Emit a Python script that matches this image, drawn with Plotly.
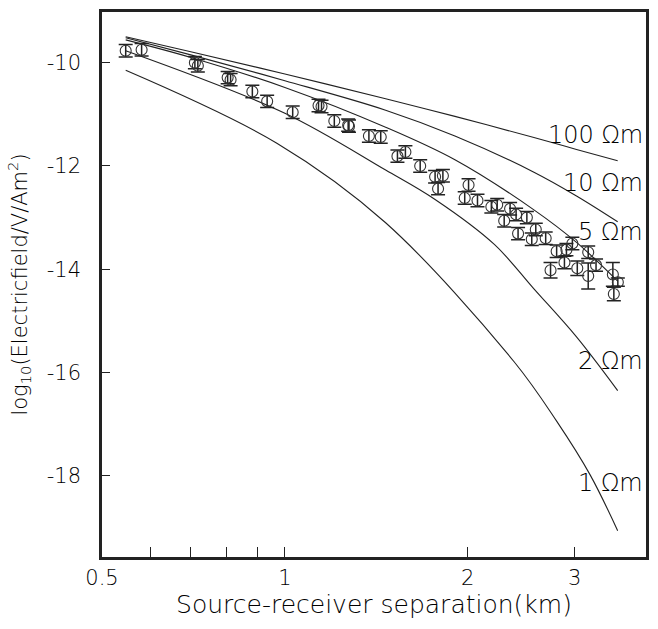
import numpy as np
import plotly.graph_objects as go

# Model curves: log10 field amplitude for half-space resistivities
curve_x = [0.547, 0.70, 1.0, 1.465, 1.905, 2.57, 3.02, 3.53]
curve_100 = [-9.50, -9.79, -10.22, -10.70, -11.04, -11.45, -11.68, -11.90]
curve_10 = [-9.52, -9.85, -10.35, -10.92, -11.42, -12.12, -12.58, -13.08]
curve_5 = [-9.56, -9.90, -10.48, -11.25, -11.88, -12.85, -13.48, -14.23]

curve2_x = [0.547, 1.0, 1.465, 1.767, 2.212, 2.57, 3.02, 3.53]
curve_2 = [-9.77, -10.98, -12.08, -12.65, -13.52, -14.38, -15.31, -16.35]

curve1_x = [0.547, 0.97, 1.465, 2.384, 2.801, 3.18, 3.53]
curve_1 = [-10.15, -11.56, -13.10, -15.79, -16.94, -17.98, -19.06]

curve_labels = ["100 Ωm", "10 Ωm", "5 Ωm", "2 Ωm", "1 Ωm"]
label_y = [-11.40, -12.33, -13.27, -15.77, -18.13]

# Measured amplitudes with error bars
obs_x = [0.547, 0.581, 0.711, 0.719, 0.805, 0.814, 0.884, 0.935, 1.030, 1.136,
         1.149, 1.206, 1.271, 1.275, 1.375, 1.438, 1.532, 1.579, 1.670, 1.767,
         1.820, 1.787, 2.006, 1.977, 2.075, 2.187, 2.236, 2.348, 2.296, 2.402,
         2.502, 2.420, 2.588, 2.549, 2.687, 2.801, 2.907, 2.973, 2.885, 2.737,
         3.029, 3.157, 3.252, 3.157, 3.466, 3.532, 3.479]
obs_y = [-9.77, -9.75, -10.00, -10.06, -10.29, -10.33, -10.56, -10.75, -10.96, -10.83,
         -10.85, -11.13, -11.21, -11.23, -11.42, -11.44, -11.81, -11.73, -12.00, -12.21,
         -12.19, -12.44, -12.37, -12.62, -12.67, -12.79, -12.75, -12.83, -13.06, -12.94,
         -13.00, -13.31, -13.23, -13.42, -13.40, -13.65, -13.62, -13.50, -13.87, -14.02,
         -13.98, -13.67, -13.92, -14.13, -14.10, -14.25, -14.48]
obs_err = [0.12, 0.12, 0.12, 0.12, 0.12, 0.12, 0.12, 0.12, 0.12, 0.12,
           0.12, 0.12, 0.12, 0.12, 0.12, 0.12, 0.12, 0.12, 0.12, 0.12,
           0.12, 0.12, 0.12, 0.12, 0.12, 0.12, 0.12, 0.12, 0.12, 0.12,
           0.12, 0.12, 0.12, 0.12, 0.12, 0.12, 0.12, 0.12, 0.12, 0.15,
           0.14, 0.12, 0.12, 0.25, 0.23, 0.08, 0.13]

x_ticks = [0.5, 1, 2, 3]
x_ticktext = ["0.5", "1", "2", "3"]
x_minor = [0.6, 0.7, 0.8, 0.9]
y_ticks = [-10, -12, -14, -16, -18]
y_ticktext = ["-10", "-12", "-14", "-16", "-18"]

FONT = "DejaVu Sans"
WEIGHT = 200
INK = "#222222"
TEXT = "#000000"

fig = go.Figure()

for xs, ys in [(curve_x, curve_100), (curve_x, curve_10), (curve_x, curve_5),
               (curve2_x, curve_2), (curve1_x, curve_1)]:
    fig.add_trace(go.Scatter(x=xs, y=ys, mode="lines",
                             line=dict(color=INK, width=1.1, shape="spline", smoothing=1.0),
                             showlegend=False, hoverinfo="skip"))

fig.add_trace(go.Scatter(
    x=obs_x, y=obs_y, mode="markers",
    marker=dict(symbol="circle-open", size=11, color="#333333", line=dict(width=1.1)),
    error_y=dict(type="data", array=obs_err, visible=True, color=INK,
                 thickness=1.5, width=7),
    showlegend=False))

for txt, ly in zip(curve_labels, label_y):
    fig.add_annotation(x=np.log10(3.91), y=ly, xref="x", yref="y", text=txt,
                       showarrow=False, xanchor="right", yanchor="middle",
                       font=dict(family=FONT, size=24, color=TEXT, weight=WEIGHT))

fig.update_layout(
    width=658, height=629,
    margin=dict(l=102, r=9, t=11, b=72),
    paper_bgcolor="white", plot_bgcolor="white",
    font=dict(family=FONT, size=21, color=TEXT, weight=WEIGHT),
    xaxis=dict(type="log", range=[np.log10(0.5), np.log10(3.93)],
               tickvals=x_ticks, ticktext=x_ticktext,
               ticks="inside", ticklen=10, tickwidth=1.2, tickcolor=INK,
               minor=dict(tickvals=x_minor, ticks="inside", ticklen=10,
                          tickwidth=1.2, tickcolor=INK, showgrid=False),
               showline=True, linewidth=2.5, linecolor=INK, mirror=True,
               showgrid=False, zeroline=False,
               title=dict(text="Source-receiver separation(km)", standoff=7,
                          font=dict(size=25, weight=WEIGHT))),
    yaxis=dict(range=[-19.57, -9.02], tickvals=y_ticks, ticktext=y_ticktext,
               ticks="inside", ticklen=8, tickwidth=1.2, tickcolor=INK,
               showline=True, linewidth=2.5, linecolor=INK, mirror=True,
               showgrid=False, zeroline=False, ticklabelstandoff=14,
               title=dict(text="log<sub>10</sub>(Electricfield/V/Am<sup>2</sup>)",
                          standoff=14, font=dict(size=21, weight=WEIGHT))),
)

fig.write_html("out.html")
